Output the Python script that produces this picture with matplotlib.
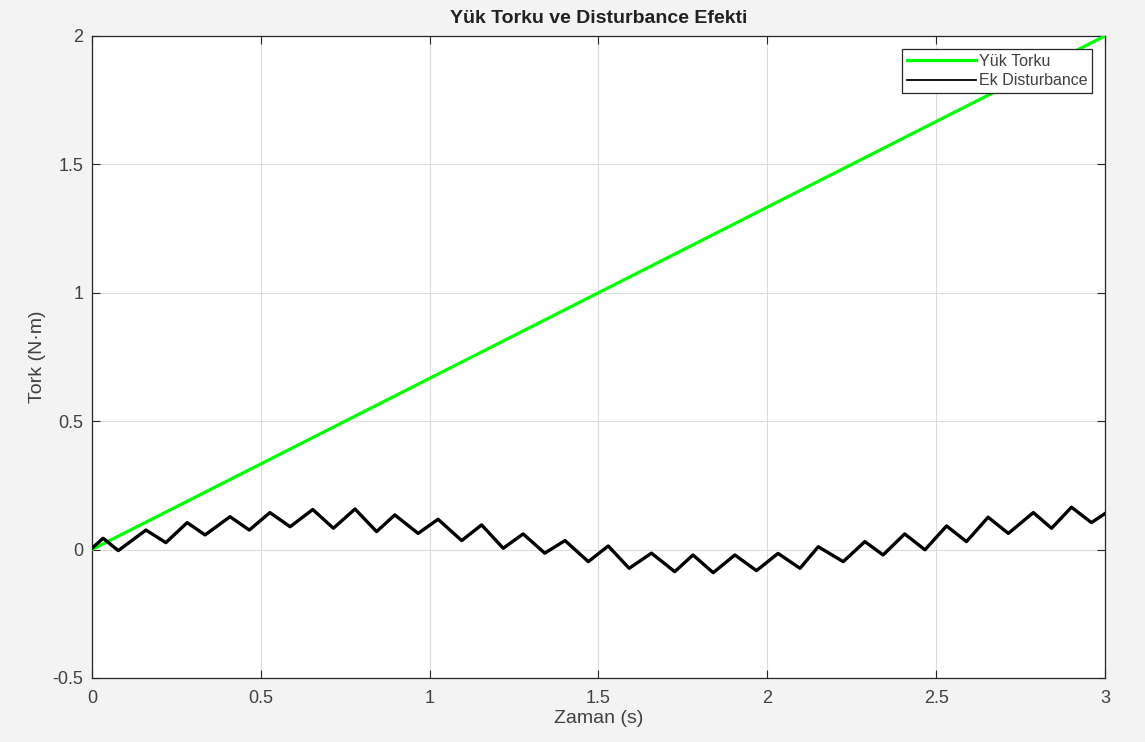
import numpy as np
import matplotlib.pyplot as plt

# load torque ramp
t_load = [0.0, 3.0]
load_torque = [0.0, 2.0]

# extra disturbance: peaks and troughs
t_dist = [0.000, 0.033, 0.078, 0.160, 0.219, 0.282, 0.335, 0.409, 0.466, 0.527,
          0.587, 0.654, 0.715, 0.779, 0.843, 0.897, 0.966, 1.025, 1.095, 1.154,
          1.218, 1.277, 1.341, 1.401, 1.470, 1.529, 1.591, 1.657, 1.726, 1.780,
          1.840, 1.904, 1.968, 2.032, 2.097, 2.151, 2.225, 2.289, 2.343, 2.407,
          2.467, 2.531, 2.590, 2.654, 2.714, 2.788, 2.842, 2.901, 2.960, 3.000]
disturbance = [0.005, 0.044, -0.004, 0.076, 0.027, 0.105, 0.057, 0.128, 0.076, 0.144,
               0.089, 0.156, 0.083, 0.158, 0.070, 0.135, 0.063, 0.118, 0.035, 0.096,
               0.005, 0.061, -0.014, 0.035, -0.047, 0.014, -0.073, -0.014, -0.086, -0.021,
               -0.090, -0.021, -0.082, -0.015, -0.073, 0.011, -0.047, 0.031, -0.021, 0.061,
               -0.001, 0.092, 0.031, 0.126, 0.063, 0.144, 0.083, 0.165, 0.105, 0.140]

x_ticks = [0, 0.5, 1, 1.5, 2, 2.5, 3]
y_ticks = [-0.5, 0, 0.5, 1, 1.5, 2]

plt.rcParams['font.family'] = ['Liberation Sans', 'DejaVu Sans']

fig = plt.figure(figsize=(11.45, 7.42), dpi=100)
fig.patch.set_facecolor('#f3f3f3')
ax = fig.add_axes([0.0803, 0.0863, 0.8847, 0.8652])
ax.set_facecolor('white')

ax.plot(t_load, load_torque, color='#00ff00', lw=2.3, label='Yük Torku', zorder=3)
ax.plot(t_dist, disturbance, color='black', lw=2.4, label='Ek Disturbance', zorder=4,
        solid_joinstyle='round')

ax.set_xlim(0, 3)
ax.set_ylim(-0.5, 2)
ax.set_xticks(x_ticks)
ax.set_xticklabels([f'{v:g}' for v in x_ticks])
ax.set_yticks(y_ticks)
ax.set_yticklabels([f'{v:g}' for v in y_ticks])
ax.tick_params(direction='in', top=True, right=True, length=6, width=0.8,
               color='#262626', labelcolor='#404040', labelsize=13)
ax.tick_params(axis='x', pad=9)
ax.tick_params(axis='y', pad=6)
ax.grid(True, color='#dcdcdc', lw=0.8)
ax.set_axisbelow(True)
for s in ax.spines.values():
    s.set_color('#262626')
    s.set_linewidth(0.9)

ax.set_title('Yük Torku ve Disturbance Efekti', fontsize=14, fontweight='bold', color='#212121', pad=9)
ax.set_xlabel('Zaman (s)', fontsize=14, color='#404040', labelpad=2)
ax.set_ylabel('Tork (N·m)', fontsize=14, color='#404040', labelpad=5)

leg = ax.legend(loc='upper right', fontsize=11.5, frameon=True, fancybox=False,
                framealpha=1, edgecolor='#262626', borderpad=0.3, labelspacing=0.3,
                handlelength=4.3, handletextpad=0.2, borderaxespad=0.8)
leg.get_frame().set_linewidth(0.9)
leg.get_lines()[1].set_linewidth(1.3)
for txt in leg.get_texts():
    txt.set_color('#404040')

fig.savefig('out.png', dpi=100, facecolor=fig.get_facecolor())
